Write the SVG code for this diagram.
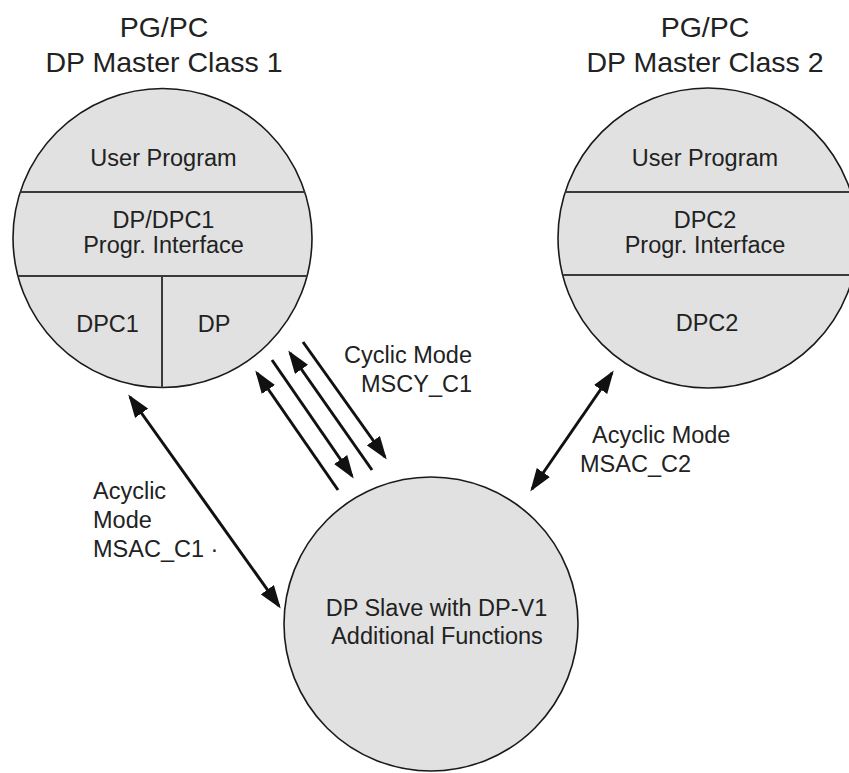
<svg xmlns="http://www.w3.org/2000/svg" width="849" height="773" viewBox="0 0 849 773">
<defs>
<style>
.bg{fill:#ffffff}
.disc{fill:#e1e1e1;stroke:#1a1a1a;stroke-width:1.6}
.div{stroke:#3a3a3a;stroke-width:2;fill:none}
text{font-family:"Liberation Sans",Arial,sans-serif;fill:#222;}
.t{font-size:23.5px;text-anchor:middle}
.title{font-size:28.5px;text-anchor:middle}
.lbl{font-size:23.5px}
.lblr{font-size:23.5px;text-anchor:end}
.arr{stroke:#111;stroke-width:3;fill:none}
</style>
<marker id="ah" markerUnits="userSpaceOnUse" markerWidth="24" markerHeight="16" refX="20" refY="8" orient="auto-start-reverse" viewBox="0 0 24 16">
<path d="M0,0 L23,8 L0,16 Z" fill="#111"/>
</marker>
</defs>
<rect class="bg" x="0" y="0" width="849" height="773"/>

<g id="master1">
<text class="title" x="164" y="37">PG/PC</text>
<text class="title" x="164" y="72">DP Master Class 1</text>
<circle class="disc" cx="162.5" cy="238" r="149.5"/>
<line class="div" x1="20.3" y1="192" x2="304.7" y2="192"/>
<line class="div" x1="17.9" y1="276" x2="307.1" y2="276"/>
<line class="div" x1="162" y1="276" x2="162" y2="387.5"/>
<text class="t" x="163.5" y="166">User Program</text>
<text class="t" x="163.5" y="228">DP/DPC1</text>
<text class="t" x="163.5" y="253">Progr. Interface</text>
<text class="t" x="107.5" y="332">DPC1</text>
<text class="t" x="214" y="332">DP</text>
</g>

<g id="master2">
<text class="title" x="705" y="37">PG/PC</text>
<text class="title" x="705" y="72">DP Master Class 2</text>
<circle class="disc" cx="708" cy="238" r="150"/>
<line class="div" x1="565.2" y1="192" x2="850.8" y2="192"/>
<line class="div" x1="562.6" y1="275" x2="853.4" y2="275"/>
<text class="t" x="705" y="166">User Program</text>
<text class="t" x="705" y="228">DPC2</text>
<text class="t" x="705" y="253">Progr. Interface</text>
<text class="t" x="707" y="331">DPC2</text>
</g>

<g id="slave">
<circle class="disc" cx="431" cy="624" r="147"/>
<text class="t" x="436.5" y="616">DP Slave with DP-V1</text>
<text class="t" x="437" y="644">Additional Functions</text>
</g>

<g id="connectors">
<line class="arr" x1="257" y1="373" x2="338" y2="490" marker-start="url(#ah)"/>
<line class="arr" x1="272" y1="360" x2="352" y2="476" marker-end="url(#ah)"/>
<line class="arr" x1="290" y1="353" x2="372" y2="470" marker-start="url(#ah)"/>
<line class="arr" x1="303" y1="342" x2="385" y2="457" marker-end="url(#ah)"/>
<line class="arr" x1="130" y1="397" x2="279" y2="606" marker-start="url(#ah)" marker-end="url(#ah)"/>
<line class="arr" x1="612" y1="373" x2="532" y2="489" marker-start="url(#ah)" marker-end="url(#ah)"/>
</g>

<g id="labels">
<text class="lblr" x="472" y="363">Cyclic Mode</text>
<text class="lblr" x="472" y="392">MSCY_C1</text>
<text class="lbl" x="592" y="443">Acyclic Mode</text>
<text class="lbl" x="580" y="472">MSAC_C2</text>
<text class="lbl" x="93" y="499">Acyclic</text>
<text class="lbl" x="93" y="528">Mode</text>
<text class="lbl" x="93" y="557">MSAC_C1 ·</text>
</g>
</svg>
